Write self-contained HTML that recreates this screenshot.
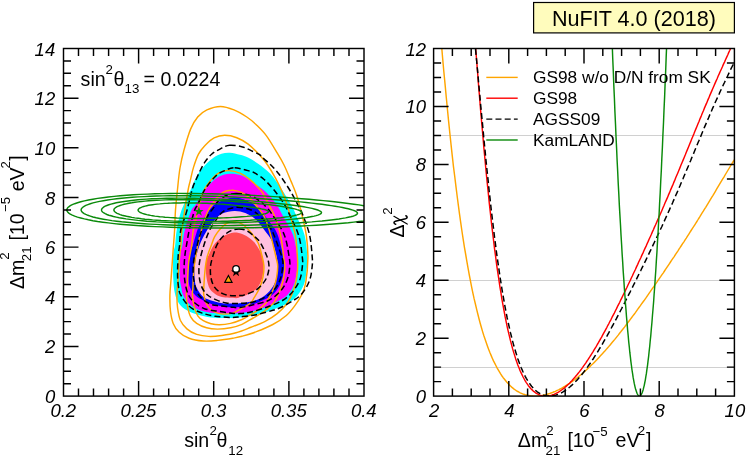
<!DOCTYPE html>
<html><head><meta charset="utf-8"><title>NuFIT 4.0</title>
<style>html,body{margin:0;padding:0;background:#fff}body{width:747px;height:457px;position:relative;overflow:hidden;font-family:"Liberation Sans",sans-serif}</style></head>
<body>
<svg width="747" height="457" viewBox="0 0 747 457" style="position:absolute;left:0;top:0;will-change:transform;font-family:'Liberation Sans',sans-serif">
<defs><clipPath id="cl"><rect x="63.5" y="48.5" width="300.5" height="347.6"/></clipPath><clipPath id="cr"><rect x="433.6" y="48.5" width="300.8" height="347.6"/></clipPath></defs>
<rect width="747" height="457" fill="#fff"/>
<g clip-path="url(#cl)">
<path d="M230.0 152.7C233.1 152.9 236.9 154.0 240.0 154.8C243.1 155.6 245.4 156.1 248.5 157.7C251.6 159.2 254.9 161.4 258.5 164.1C262.1 166.8 266.7 170.0 270.3 173.8C273.9 177.6 277.3 182.7 280.2 186.9C283.1 191.1 285.6 195.2 287.8 198.9C290.0 202.6 291.9 206.1 293.3 208.8C294.7 211.5 294.1 210.6 296.0 215.0C297.9 219.4 302.7 228.0 304.6 235.2C306.5 242.4 307.0 252.4 307.4 258.1C307.8 263.8 307.2 265.1 306.7 269.2C306.2 273.2 305.9 278.4 304.6 282.4C303.3 286.4 301.3 290.2 299.1 293.3C296.9 296.4 295.0 298.5 291.4 301.0C287.8 303.5 282.1 306.0 277.2 308.1C272.3 310.2 266.6 312.2 261.9 313.6C257.2 315.0 252.5 315.7 248.8 316.3C245.2 316.9 243.9 317.1 240.0 317.4C236.1 317.7 230.0 318.0 225.2 318.0C220.4 318.0 215.6 317.9 211.0 317.4C206.4 316.8 201.8 315.9 197.8 314.7C193.8 313.5 190.0 312.1 186.9 310.3C183.8 308.5 181.2 306.7 179.2 303.8C177.2 300.9 175.8 297.5 174.8 293.0C173.8 288.5 173.5 283.2 173.2 276.9C172.9 270.6 172.9 260.3 173.2 255.0C173.5 249.7 174.5 249.4 175.1 245.2C175.7 241.0 175.6 235.7 176.7 229.9C177.8 224.1 178.9 217.6 181.4 210.6C183.9 203.6 189.2 193.2 191.4 188.2C193.6 183.2 193.2 183.2 194.6 180.5C196.0 177.8 197.7 174.5 199.6 171.8C201.5 169.1 203.7 166.5 206.1 164.1C208.5 161.7 211.2 159.2 213.8 157.5C216.4 155.8 218.8 154.5 221.5 153.7C224.2 152.9 226.9 152.5 230.0 152.7Z" fill="#00ffff"/>
<path d="M230.0 173.8C233.8 173.7 237.9 174.1 241.8 175.6C245.7 177.1 249.5 180.3 253.2 182.7C256.9 185.1 260.8 187.7 263.8 190.2C266.8 192.7 268.9 194.9 271.4 197.8C273.8 200.7 276.7 204.8 278.5 207.7C280.3 210.6 280.0 210.4 282.4 215.0C284.8 219.6 290.6 228.0 293.1 235.2C295.6 242.4 296.9 252.1 297.5 258.1C298.1 264.1 297.5 266.8 296.9 271.4C296.2 276.0 295.2 281.6 293.6 285.6C292.0 289.6 289.7 292.8 287.0 295.5C284.3 298.2 280.6 299.7 277.2 301.6C273.8 303.5 270.3 305.4 266.3 307.0C262.3 308.6 257.5 309.9 253.1 310.9C248.7 311.9 243.8 312.7 240.0 313.1C236.2 313.6 234.9 313.6 230.6 313.6C226.3 313.6 219.3 313.7 214.2 313.1C209.1 312.6 204.2 311.9 200.0 310.3C195.8 308.8 191.9 306.4 189.1 303.8C186.3 301.2 184.4 297.7 183.1 295.0C181.8 292.3 181.9 290.8 181.4 287.8C180.9 284.8 180.0 282.4 179.8 276.9C179.6 271.4 179.9 260.3 180.3 255.0C180.7 249.7 181.7 249.4 182.4 245.2C183.2 241.0 183.3 235.7 184.8 229.9C186.3 224.1 189.5 214.8 191.3 210.6C193.1 206.4 193.6 207.8 195.6 204.7C197.6 201.6 200.9 195.4 203.4 191.9C205.9 188.4 207.9 186.1 210.5 183.5C213.1 180.9 215.8 178.1 219.1 176.5C222.3 174.9 226.2 174.0 230.0 173.8Z" fill="#ff00ff"/>
<path d="M234.7 197.6C238.0 197.7 242.1 198.7 245.3 199.9C248.5 201.1 251.2 202.5 254.1 204.8C257.0 207.1 259.9 210.3 262.8 213.6C265.7 216.9 269.1 220.9 271.6 224.5C274.1 228.1 275.8 229.6 277.8 235.2C279.8 240.8 282.7 253.0 283.8 258.1C284.9 263.2 284.5 262.8 284.3 265.9C284.1 269.0 283.7 273.2 282.7 276.9C281.7 280.5 280.1 284.7 278.3 287.8C276.5 290.9 274.4 293.3 271.7 295.5C269.0 297.7 265.4 299.2 261.9 300.8C258.4 302.4 254.6 303.8 250.9 304.8C247.2 305.8 244.1 306.6 240.0 307.0C235.9 307.4 230.6 307.4 226.3 307.0C222.0 306.6 218.0 305.9 214.2 304.8C210.4 303.7 206.4 302.1 203.3 300.5C200.2 298.9 197.7 297.6 195.5 295.5C193.3 293.4 191.4 290.9 190.2 287.8C189.0 284.7 188.6 282.4 188.5 276.9C188.4 271.4 188.9 260.3 189.6 255.0C190.3 249.7 191.6 249.4 192.9 245.2C194.2 241.0 196.0 233.7 197.4 229.9C198.8 226.1 199.8 225.5 201.6 222.4C203.4 219.3 205.7 214.5 208.1 211.4C210.5 208.3 212.9 205.8 215.8 203.8C218.7 201.8 222.4 200.4 225.6 199.4C228.8 198.4 231.4 197.5 234.7 197.6Z" fill="#0000ff"/>
<path d="M234.4 210.9C238.2 210.8 241.8 211.7 245.3 213.1C248.8 214.5 252.0 216.3 255.2 219.1C258.4 221.9 261.5 226.3 264.3 230.0C267.1 233.7 269.9 236.7 271.9 241.0C273.9 245.3 275.6 251.8 276.5 256.0C277.4 260.1 277.5 262.4 277.5 265.9C277.5 269.4 277.5 273.4 276.7 276.9C275.9 280.4 274.7 283.6 272.8 286.7C270.9 289.8 268.3 292.8 265.2 295.2C262.1 297.6 258.4 299.4 254.2 300.8C250.0 302.2 243.0 302.9 240.0 303.3C237.0 303.7 238.8 303.4 236.1 303.4C233.4 303.4 227.8 303.8 224.0 303.4C220.2 303.0 216.4 302.0 213.0 300.9C209.6 299.8 206.0 299.2 203.3 297.0C200.6 294.8 198.2 291.2 196.7 287.8C195.2 284.4 194.7 281.4 194.5 276.9C194.3 272.4 194.6 265.9 195.4 260.6C196.2 255.3 197.8 249.9 199.6 245.2C201.3 240.5 203.6 236.2 205.9 232.2C208.2 228.2 210.8 224.4 213.6 221.3C216.3 218.2 218.9 215.3 222.4 213.6C225.9 211.9 230.6 211.0 234.4 210.9Z" fill="#ffc0e0"/>
<path d="M237.7 232.7C240.6 233.1 243.8 234.6 246.4 236.0C249.0 237.4 251.3 239.5 253.0 241.0C254.7 242.5 254.8 242.7 256.3 245.0C257.8 247.3 260.7 251.5 261.9 255.0C263.1 258.5 263.5 261.9 263.5 265.9C263.5 269.9 263.1 275.3 261.9 279.1C260.7 282.9 258.9 286.3 256.4 288.9C253.8 291.5 249.3 293.5 246.6 294.9C243.9 296.3 241.8 296.6 240.0 297.1C238.2 297.7 239.1 298.2 236.1 298.2C233.1 298.2 225.6 297.9 221.9 297.1C218.2 296.3 216.4 295.0 214.2 293.3C212.0 291.6 210.2 290.0 208.8 286.7C207.4 283.4 206.4 278.0 206.0 273.6C205.6 269.2 205.8 263.7 206.3 260.6C206.8 257.5 207.6 257.6 208.8 255.0C210.0 252.4 211.5 248.1 213.6 245.2C215.7 242.3 218.8 239.6 221.3 237.7C223.9 235.8 226.2 234.6 228.9 233.8C231.6 233.0 234.8 232.3 237.7 232.7Z" fill="#ff5050"/>
<path d="M220.5 106.4C225.0 106.4 229.6 108.1 234.0 109.9C238.4 111.7 243.1 114.6 246.8 117.0C250.5 119.4 252.8 121.4 256.0 124.5C259.2 127.6 262.8 130.9 266.3 135.6C269.8 140.3 274.1 147.8 277.0 152.7C279.9 157.6 281.6 160.2 284.0 165.0C286.4 169.8 288.9 176.1 291.1 181.4C293.3 186.7 295.3 191.1 297.1 196.7C298.9 202.3 300.5 208.6 302.0 215.0C303.5 221.4 305.3 228.0 306.3 235.2C307.3 242.4 308.0 250.1 307.9 258.1C307.8 266.1 306.7 277.2 305.6 283.4C304.5 289.6 303.1 291.8 301.3 295.5C299.5 299.2 297.2 302.5 294.7 305.9C292.1 309.3 289.6 312.7 286.0 315.8C282.4 318.9 277.7 321.9 272.8 324.5C267.9 327.1 261.5 329.7 256.4 331.7C251.3 333.7 245.9 335.2 242.0 336.3C238.1 337.4 236.9 337.5 232.8 338.2C228.7 338.9 222.4 339.9 217.5 340.4C212.6 340.9 208.0 341.4 203.3 341.0C198.6 340.6 193.1 339.7 189.1 338.2C185.1 336.7 181.8 334.7 179.2 332.2C176.5 329.7 174.6 326.9 173.2 323.4C171.8 319.9 171.1 316.1 170.5 311.4C169.9 306.7 169.8 300.2 169.9 295.0C170.0 289.8 170.6 285.7 171.0 280.0C171.4 274.3 172.0 266.4 172.4 260.6C172.8 254.8 173.1 250.3 173.5 245.2C173.9 240.1 174.3 235.8 174.6 229.9C174.9 224.0 175.0 216.9 175.5 210.0C176.0 203.1 176.8 195.5 177.6 188.5C178.3 181.5 178.9 174.4 180.0 168.0C181.1 161.6 182.2 156.5 184.0 150.0C185.8 143.5 188.3 134.6 190.6 129.1C192.9 123.6 195.0 120.2 197.7 117.0C200.4 113.8 203.1 111.7 206.9 109.9C210.7 108.1 216.0 106.4 220.5 106.4Z" fill="none" stroke="#ffa500" stroke-width="1.45"/>
<path d="M224.7 135.3C228.5 135.3 232.9 136.2 236.8 137.7C240.7 139.2 244.2 141.0 248.2 144.1C252.1 147.2 257.3 152.5 260.5 156.0C263.7 159.5 265.1 161.2 267.6 165.0C270.2 168.8 273.3 174.1 275.8 178.7C278.3 183.3 280.5 187.9 282.4 192.4C284.3 196.9 286.0 201.7 287.3 205.5C288.6 209.3 288.7 210.1 290.0 215.0C291.3 219.9 294.1 228.0 295.3 235.2C296.6 242.4 297.1 252.1 297.5 258.1C297.9 264.1 297.8 267.0 297.4 271.4C297.0 275.8 296.3 280.5 295.3 284.5C294.3 288.5 292.9 292.1 291.4 295.5C289.8 298.9 288.4 301.8 286.0 304.8C283.6 307.8 280.7 310.9 277.2 313.6C273.7 316.4 269.6 319.0 265.2 321.3C260.8 323.6 255.8 325.4 250.9 327.3C246.0 329.2 240.8 331.4 236.0 332.8C231.2 334.2 226.4 334.9 221.9 335.5C217.4 336.1 213.0 336.6 208.8 336.4C204.6 336.2 200.3 335.6 196.7 334.4C193.0 333.1 189.6 331.3 186.9 328.9C184.2 326.5 181.9 323.7 180.3 320.2C178.8 316.7 178.2 312.3 177.6 308.1C177.0 303.9 176.9 299.7 177.0 295.0C177.1 290.3 177.6 285.7 178.0 280.0C178.4 274.3 178.7 266.4 179.2 260.6C179.7 254.8 180.3 250.3 180.8 245.2C181.3 240.1 181.3 235.7 182.0 229.9C182.7 224.1 183.7 217.2 184.7 210.6C185.7 203.9 187.2 195.0 188.1 190.0C189.0 185.0 189.4 184.3 190.3 180.5C191.2 176.7 192.1 171.8 193.5 167.4C194.9 163.0 196.6 157.8 198.5 154.2C200.4 150.5 202.4 148.2 205.0 145.5C207.6 142.8 210.8 139.6 214.1 137.9C217.4 136.2 220.9 135.3 224.7 135.3Z" fill="none" stroke="#ffa500" stroke-width="1.45"/>
<path d="M229.0 170.6C232.6 170.7 236.8 171.8 240.4 173.4C244.0 175.0 246.8 176.9 250.3 179.9C253.8 182.9 258.5 187.1 261.6 191.4C264.8 195.7 267.1 201.6 269.2 205.5C271.3 209.4 272.2 210.1 274.1 215.0C276.0 219.9 279.0 228.0 280.6 235.2C282.2 242.4 283.1 253.0 283.8 258.1C284.5 263.2 284.9 262.8 284.9 265.9C284.9 269.0 284.4 273.2 283.8 276.9C283.2 280.5 282.3 284.1 281.0 287.8C279.7 291.5 277.5 296.1 276.1 298.8C274.7 301.5 274.8 301.7 272.8 303.8C270.8 305.9 267.4 309.0 264.1 311.4C260.8 313.8 256.8 315.9 253.1 318.0C249.4 320.1 245.8 322.7 242.0 324.3C238.2 325.9 234.7 327.0 230.6 327.8C226.5 328.6 221.5 329.1 217.5 329.1C213.5 329.1 210.1 328.8 206.6 327.8C203.1 326.9 199.3 325.2 196.7 323.4C194.0 321.6 192.2 319.8 190.7 316.9C189.1 314.0 188.1 309.5 187.4 305.9C186.7 302.2 186.4 298.0 186.3 295.0C186.2 292.0 186.6 291.7 186.9 287.8C187.2 283.9 187.7 275.9 188.0 271.4C188.3 266.9 188.3 265.0 188.9 260.6C189.5 256.2 191.0 250.3 191.7 245.2C192.4 240.1 192.3 235.7 193.3 229.9C194.3 224.1 196.7 215.3 197.8 210.6C198.9 205.9 198.8 205.4 199.9 201.9C201.0 198.4 202.6 193.2 204.4 189.6C206.2 186.0 208.1 183.4 210.5 180.6C212.9 177.8 216.0 174.6 219.1 172.9C222.2 171.2 225.4 170.5 229.0 170.6Z" fill="none" stroke="#ffa500" stroke-width="1.45"/>
<path d="M231.9 190.2C235.2 190.1 238.8 191.3 241.8 192.7C244.8 194.0 247.1 195.9 249.7 198.3C252.3 200.7 254.8 203.7 257.4 207.0C259.9 210.3 262.8 213.3 265.0 218.0C267.2 222.7 268.8 228.5 270.7 235.2C272.6 241.9 275.0 253.0 276.2 258.1C277.4 263.2 277.6 262.8 277.7 265.9C277.8 269.0 277.3 273.2 276.7 276.9C276.1 280.5 275.3 284.1 273.9 287.8C272.5 291.5 269.7 296.3 268.4 298.8C267.1 301.3 268.1 300.8 266.3 302.7C264.5 304.6 260.6 308.0 257.5 310.3C254.4 312.6 250.3 314.8 247.7 316.3C245.1 317.8 244.8 318.3 242.0 319.5C239.2 320.7 234.3 322.5 230.6 323.4C226.9 324.3 223.0 324.8 219.7 324.8C216.4 324.9 213.7 324.4 211.0 323.7C208.3 323.0 205.5 322.0 203.3 320.7C201.1 319.4 199.4 318.3 197.8 315.8C196.2 313.3 194.9 309.4 194.0 305.9C193.1 302.4 192.6 298.0 192.4 295.0C192.2 292.0 192.7 291.7 192.9 287.8C193.1 283.9 193.3 275.9 193.7 271.4C194.0 266.9 194.3 265.0 195.0 260.6C195.7 256.2 196.7 250.5 197.8 245.2C198.9 239.9 200.2 234.3 201.7 229.0C203.2 223.7 205.2 217.4 207.0 213.2C208.8 209.0 210.0 207.4 212.5 204.0C215.0 200.6 218.7 195.3 221.9 193.0C225.1 190.7 228.6 190.2 231.9 190.2Z" fill="none" stroke="#ffa500" stroke-width="1.45"/>
<path d="M234.4 221.8C237.0 221.9 239.4 222.4 242.0 224.0C244.6 225.6 247.3 228.4 249.7 231.1C252.1 233.8 254.8 237.6 256.3 239.9C257.9 242.2 258.1 242.3 259.0 245.0C259.9 247.7 261.2 252.5 262.0 256.0C262.8 259.5 263.7 262.4 263.9 265.9C264.1 269.4 263.7 273.2 263.0 276.9C262.3 280.5 261.2 284.3 259.7 287.8C258.2 291.3 255.7 295.2 254.2 297.7C252.7 300.2 252.5 301.1 250.9 302.7C249.3 304.2 246.2 305.9 244.4 307.0C242.6 308.1 241.9 308.5 240.0 309.5C238.1 310.5 235.5 312.3 232.8 313.1C230.2 313.9 226.7 314.1 224.1 314.1C221.5 314.1 219.7 313.8 217.5 313.1C215.3 312.4 212.9 311.5 211.0 309.8C209.1 308.1 207.2 305.2 206.0 302.7C204.8 300.2 204.2 297.5 203.8 295.0C203.4 292.5 203.6 291.7 203.8 287.8C204.0 283.9 204.4 276.5 204.9 271.4C205.4 266.3 206.0 261.6 207.1 257.2C208.2 252.8 210.1 248.4 211.4 245.0C212.7 241.6 213.2 239.3 214.7 236.6C216.2 233.9 218.2 231.1 220.2 228.9C222.2 226.7 224.3 224.6 226.7 223.4C229.1 222.2 231.8 221.7 234.4 221.8Z" fill="none" stroke="#ffa500" stroke-width="1.45"/>
<path d="M229.7 145.2C233.4 144.9 238.7 145.9 242.5 146.9C246.3 147.9 249.7 149.9 252.5 151.2C255.3 152.5 257.7 153.4 259.6 154.7C261.6 156.0 262.3 157.4 264.2 159.1C266.1 160.8 268.4 162.5 270.9 165.0C273.4 167.5 276.5 170.9 279.1 174.3C281.7 177.7 284.4 181.7 286.7 185.2C289.0 188.7 291.0 192.1 292.7 195.1C294.4 198.1 295.9 201.0 297.1 203.3C298.3 205.6 298.9 206.8 299.9 208.8C300.9 210.8 301.4 211.1 303.0 215.5C304.6 219.9 308.1 228.1 309.6 235.2C311.2 242.3 311.9 253.0 312.3 258.1C312.7 263.2 312.5 262.8 312.2 265.9C311.9 269.0 311.5 273.4 310.6 276.9C309.7 280.4 308.4 283.6 306.7 286.7C305.0 289.8 302.6 293.1 300.2 295.5C297.8 297.9 295.6 299.1 292.5 301.0C289.4 302.9 284.9 305.4 281.6 307.0C278.3 308.6 277.0 309.0 272.8 310.3C268.6 311.6 261.9 313.6 256.4 314.7C250.9 315.8 244.3 316.4 240.0 316.9C235.7 317.3 234.7 317.5 230.6 317.4C226.5 317.3 220.0 317.0 215.3 316.3C210.6 315.6 206.0 314.4 202.2 313.1C198.4 311.8 195.1 310.4 192.4 308.7C189.7 307.0 187.6 304.8 185.8 302.7C184.0 300.6 182.5 297.9 181.4 296.0C180.3 294.1 179.8 294.3 179.2 291.1C178.6 287.9 177.8 282.5 177.6 276.9C177.4 271.2 177.8 262.5 178.1 257.2C178.4 251.9 179.1 249.8 179.6 245.2C180.1 240.6 179.6 235.7 180.8 229.9C182.0 224.1 185.0 217.6 186.9 210.6C188.8 203.6 191.1 193.0 192.5 188.2C193.9 183.4 194.0 184.3 195.2 181.6C196.4 178.9 198.0 175.1 199.6 171.8C201.2 168.5 203.0 164.8 205.0 161.9C207.0 159.0 209.0 156.4 211.6 154.2C214.2 152.0 217.4 150.3 220.4 148.8C223.4 147.3 226.0 145.5 229.7 145.2Z" fill="none" stroke="#000" stroke-width="1.5" stroke-dasharray="6 3.2"/>
<path d="M234.7 167.8C239.0 167.9 246.9 170.4 250.3 171.3C253.7 172.2 252.8 171.9 255.0 173.2C257.2 174.5 261.1 176.9 263.8 179.2C266.5 181.5 269.0 184.2 271.4 186.9C273.8 189.6 275.9 192.3 278.0 195.1C280.1 197.9 282.4 201.2 284.0 203.8C285.6 206.5 285.4 205.8 287.8 211.0C290.2 216.2 296.2 227.3 298.6 235.2C301.0 243.0 301.8 253.0 302.4 258.1C303.0 263.2 302.7 262.8 302.4 265.9C302.1 269.0 301.6 273.6 300.7 276.9C299.8 280.2 298.6 282.7 296.9 285.6C295.2 288.5 292.9 291.8 290.3 294.4C287.8 297.0 285.4 298.9 281.6 301.0C277.8 303.1 272.5 305.2 267.4 307.0C262.3 308.8 255.5 310.9 250.9 312.0C246.3 313.1 243.5 313.4 240.0 313.6C236.5 313.8 233.8 313.4 230.0 313.0C226.2 312.6 221.8 311.9 217.5 311.2C213.2 310.5 208.2 310.1 204.4 308.7C200.6 307.3 197.2 305.0 194.5 302.7C191.8 300.4 190.1 298.2 188.5 295.0C186.9 291.8 185.9 287.3 185.2 283.4C184.5 279.5 184.2 275.8 184.1 271.4C184.0 267.0 184.3 261.6 184.7 257.2C185.1 252.8 185.7 249.8 186.5 245.2C187.3 240.6 188.0 235.7 189.3 229.9C190.6 224.1 193.1 214.8 194.5 210.6C195.9 206.4 196.3 207.6 197.7 204.7C199.1 201.8 201.0 196.6 202.7 193.4C204.4 190.2 205.4 188.5 207.7 185.5C209.9 182.5 213.4 178.1 216.2 175.6C219.0 173.1 221.6 171.9 224.7 170.6C227.8 169.3 230.4 167.7 234.7 167.8Z" fill="none" stroke="#000" stroke-width="1.5" stroke-dasharray="6 3.2"/>
<path d="M236.1 193.4C240.1 193.4 245.9 194.1 250.0 195.5C254.1 196.9 257.9 199.7 260.6 201.6C263.3 203.5 264.3 205.0 266.1 207.0C267.9 209.0 268.6 208.9 271.6 213.6C274.7 218.3 281.4 227.8 284.4 235.2C287.3 242.6 288.4 253.0 289.3 258.1C290.2 263.2 290.0 262.8 289.8 265.9C289.6 269.0 289.1 273.4 288.1 276.9C287.1 280.4 285.6 283.8 283.8 286.7C282.0 289.6 279.9 292.0 277.2 294.4C274.5 296.8 271.4 299.3 267.4 301.0C263.4 302.7 257.7 303.7 253.1 304.8C248.5 305.9 243.8 307.2 240.0 307.6C236.2 308.0 234.0 307.3 230.6 307.0C227.2 306.7 223.0 306.3 219.7 305.9C216.4 305.4 213.8 305.4 211.0 304.3C208.2 303.2 205.4 301.7 203.0 299.5C200.6 297.3 198.1 294.9 196.5 291.0C194.9 287.1 193.8 281.1 193.3 276.0C192.8 270.9 193.3 264.7 193.7 260.6C194.1 256.6 195.0 255.1 195.8 251.7C196.6 248.3 197.3 244.1 198.5 240.0C199.7 235.9 201.3 231.3 203.0 227.0C204.7 222.7 207.1 217.1 208.7 214.1C210.3 211.1 211.2 211.0 212.7 209.0C214.2 207.0 215.3 204.2 217.6 201.9C219.8 199.7 223.1 196.9 226.2 195.5C229.3 194.1 232.1 193.4 236.1 193.4Z" fill="none" stroke="#000" stroke-width="1.5" stroke-dasharray="6 3.2"/>
<path d="M237.0 207.2C241.8 207.0 248.0 208.7 251.9 210.3C255.8 211.9 257.7 214.2 260.6 216.9C263.5 219.6 267.2 223.6 269.4 226.7C271.6 229.8 271.9 230.0 274.0 235.2C276.1 240.4 280.8 253.0 282.2 258.1C283.6 263.2 282.9 262.8 282.7 265.9C282.5 269.0 281.9 273.6 281.0 276.9C280.1 280.2 278.9 282.9 277.2 285.6C275.5 288.3 273.2 291.1 270.6 293.3C268.1 295.5 265.2 297.2 261.9 298.8C258.6 300.4 254.0 301.9 250.9 302.6C247.8 303.3 245.8 303.1 243.3 303.2C240.8 303.3 238.9 303.6 236.1 303.5C233.3 303.4 229.4 303.4 226.3 302.9C223.2 302.4 220.4 301.5 217.5 300.4C214.6 299.2 211.2 297.7 208.8 296.0C206.4 294.3 204.8 292.4 203.3 290.0C201.8 287.6 200.7 284.4 200.0 281.3C199.3 278.2 198.9 274.8 198.9 271.4C198.9 267.9 199.0 265.0 199.8 260.6C200.6 256.2 202.3 250.1 203.9 245.2C205.5 240.3 207.2 235.3 209.2 231.1C211.2 226.9 213.4 223.5 215.8 220.2C218.2 216.9 219.9 213.6 223.4 211.4C226.9 209.2 232.2 207.4 237.0 207.2Z" fill="none" stroke="#000" stroke-width="1.5" stroke-dasharray="6 3.2"/>
<path d="M238.8 228.9C241.4 228.9 243.7 229.2 246.4 230.6C249.1 232.0 252.8 235.0 255.2 237.1C257.6 239.2 258.7 239.9 260.6 243.1C262.5 246.3 265.4 252.3 266.8 256.1C268.2 259.9 268.9 262.6 269.0 265.9C269.1 269.2 268.4 272.9 267.4 275.8C266.4 278.7 265.0 280.9 263.0 283.4C261.0 285.9 258.4 288.7 255.3 290.6C252.2 292.5 246.7 294.1 244.4 294.9C242.1 295.7 244.1 295.4 241.6 295.5C239.1 295.6 233.1 296.0 229.6 295.5C226.1 295.0 223.4 294.2 220.8 292.7C218.2 291.2 215.8 289.1 214.2 286.7C212.6 284.2 211.6 280.9 211.0 278.0C210.4 275.1 210.3 272.1 210.4 269.2C210.5 266.3 210.5 264.6 211.6 260.6C212.7 256.6 214.8 249.3 216.8 245.2C218.8 241.1 221.0 238.4 223.4 236.0C225.8 233.6 228.5 231.8 231.1 230.6C233.7 229.4 236.2 228.9 238.8 228.9Z" fill="none" stroke="#000" stroke-width="1.5" stroke-dasharray="6 3.2"/>
<polygon points="268.5,211.8 268.4,212.1 268.1,212.4 267.7,212.7 267.1,213.0 266.3,213.4 265.3,213.7 264.2,213.9 262.9,214.2 261.4,214.5 259.8,214.8 258.0,215.1 256.0,215.3 254.0,215.6 251.8,215.9 249.4,216.1 246.9,216.4 244.3,216.6 241.6,216.8 238.8,217.0 235.9,217.2 232.9,217.4 229.8,217.6 226.7,217.7 223.4,217.9 220.2,218.0 216.9,218.1 213.5,218.2 210.1,218.3 206.7,218.4 203.3,218.4 199.9,218.4 196.5,218.4 193.1,218.4 189.7,218.4 186.4,218.3 183.2,218.2 179.9,218.1 176.8,218.0 173.7,217.8 170.7,217.6 167.8,217.4 165.0,217.2 162.3,216.9 159.7,216.7 157.2,216.4 154.8,216.1 152.6,215.7 150.6,215.4 148.6,215.0 146.8,214.6 145.2,214.2 143.7,213.8 142.4,213.4 141.3,212.9 140.3,212.5 139.5,212.0 138.9,211.5 138.5,211.0 138.2,210.6 138.1,210.1 138.2,209.6 138.5,209.1 138.9,208.7 139.5,208.2 140.3,207.8 141.3,207.3 142.4,206.9 143.7,206.5 145.2,206.1 146.8,205.7 148.6,205.3 150.6,205.0 152.6,204.7 154.8,204.4 157.2,204.1 159.7,203.9 162.3,203.6 165.0,203.4 167.8,203.3 170.7,203.1 173.7,203.0 176.8,202.9 179.9,202.9 183.2,202.8 186.4,202.8 189.7,202.9 193.1,202.9 196.5,203.0 199.9,203.1 203.3,203.2 206.7,203.3 210.1,203.5 213.5,203.7 216.9,203.9 220.2,204.1 223.4,204.3 226.7,204.6 229.8,204.8 232.9,205.1 235.9,205.4 238.8,205.7 241.6,206.0 244.3,206.3 246.9,206.6 249.4,206.9 251.8,207.2 254.0,207.5 256.0,207.9 258.0,208.2 259.8,208.5 261.4,208.9 262.9,209.2 264.2,209.5 265.3,209.8 266.3,210.2 267.1,210.5 267.7,210.8 268.1,211.2 268.4,211.5" fill="none" stroke="#0a8a0a" stroke-width="1.45"/>
<polygon points="301.7,212.3 301.6,212.8 301.2,213.2 300.5,213.7 299.6,214.1 298.5,214.5 297.1,214.9 295.5,215.3 293.6,215.8 291.5,216.2 289.1,216.6 286.6,216.9 283.8,217.3 280.8,217.7 277.6,218.0 274.2,218.4 270.6,218.7 266.9,219.0 263.0,219.4 258.9,219.6 254.8,219.9 250.4,220.2 246.0,220.4 241.5,220.6 236.8,220.8 232.1,221.0 227.3,221.2 222.5,221.3 217.6,221.4 212.7,221.5 207.8,221.6 202.9,221.6 198.0,221.6 193.1,221.6 188.3,221.5 183.5,221.4 178.8,221.3 174.1,221.1 169.6,220.9 165.2,220.7 160.9,220.5 156.7,220.2 152.6,219.9 148.7,219.5 145.0,219.2 141.4,218.8 138.0,218.3 134.8,217.9 131.8,217.4 129.0,216.8 126.5,216.3 124.1,215.7 122.0,215.2 120.1,214.6 118.5,213.9 117.1,213.3 116.0,212.7 115.1,212.0 114.4,211.3 114.0,210.7 113.9,210.0 114.0,209.3 114.4,208.6 115.1,208.0 116.0,207.3 117.1,206.7 118.5,206.1 120.1,205.5 122.0,204.9 124.1,204.3 126.5,203.8 129.0,203.2 131.8,202.8 134.8,202.3 138.0,201.9 141.4,201.5 145.0,201.1 148.7,200.8 152.6,200.5 156.7,200.3 160.8,200.1 165.2,199.9 169.6,199.8 174.1,199.7 178.8,199.7 183.5,199.7 188.3,199.7 193.1,199.8 198.0,199.9 202.9,200.0 207.8,200.2 212.7,200.4 217.6,200.6 222.5,200.8 227.3,201.1 232.1,201.4 236.8,201.8 241.5,202.1 246.0,202.5 250.4,202.8 254.8,203.2 258.9,203.7 263.0,204.1 266.9,204.5 270.6,204.9 274.2,205.4 277.6,205.8 280.8,206.3 283.8,206.8 286.6,207.2 289.1,207.7 291.5,208.2 293.6,208.6 295.5,209.1 297.1,209.6 298.5,210.0 299.6,210.5 300.5,211.0 301.2,211.4 301.6,211.9" fill="none" stroke="#0a8a0a" stroke-width="1.45"/>
<polygon points="321.5,212.6 321.3,213.2 320.9,213.7 320.1,214.2 319.1,214.6 317.8,215.1 316.1,215.6 314.2,216.1 312.0,216.5 309.5,217.0 306.8,217.5 303.8,217.9 300.5,218.3 297.0,218.7 293.2,219.1 289.3,219.5 285.1,219.9 280.7,220.3 276.2,220.6 271.4,221.0 266.5,221.3 261.4,221.6 256.2,221.8 250.9,222.1 245.5,222.3 240.0,222.5 234.4,222.7 228.7,222.8 223.0,223.0 217.3,223.1 211.5,223.1 205.7,223.1 200.0,223.1 194.3,223.1 188.6,223.0 183.0,222.9 177.5,222.8 172.1,222.6 166.8,222.4 161.6,222.1 156.5,221.9 151.6,221.5 146.8,221.2 142.3,220.8 137.9,220.4 133.7,219.9 129.8,219.4 126.0,218.9 122.5,218.3 119.2,217.8 116.2,217.1 113.5,216.5 111.0,215.8 108.8,215.2 106.9,214.5 105.2,213.7 103.9,213.0 102.9,212.2 102.1,211.5 101.7,210.7 101.5,210.0 101.7,209.2 102.1,208.4 102.9,207.7 103.9,206.9 105.2,206.2 106.9,205.5 108.8,204.8 111.0,204.1 113.5,203.5 116.2,202.8 119.2,202.2 122.5,201.7 126.0,201.2 129.8,200.7 133.7,200.2 137.9,199.8 142.3,199.4 146.8,199.1 151.6,198.8 156.5,198.6 161.6,198.4 166.8,198.3 172.1,198.2 177.5,198.1 183.0,198.1 188.6,198.2 194.3,198.2 200.0,198.4 205.7,198.5 211.5,198.7 217.3,198.9 223.0,199.2 228.7,199.5 234.4,199.8 240.0,200.2 245.5,200.6 250.9,200.9 256.2,201.4 261.4,201.8 266.5,202.3 271.4,202.7 276.2,203.2 280.7,203.7 285.1,204.2 289.3,204.7 293.2,205.2 297.0,205.8 300.5,206.3 303.8,206.8 306.8,207.4 309.5,207.9 312.0,208.4 314.2,209.0 316.1,209.5 317.8,210.0 319.1,210.6 320.1,211.1 320.9,211.6 321.3,212.1" fill="none" stroke="#0a8a0a" stroke-width="1.45"/>
<polygon points="357.5,213.2 357.3,213.8 356.7,214.4 355.8,215.0 354.5,215.6 352.8,216.2 350.7,216.8 348.3,217.3 345.6,217.9 342.4,218.4 339.0,219.0 335.2,219.5 331.1,220.0 326.7,220.5 322.0,221.0 317.0,221.4 311.8,221.9 306.3,222.3 300.5,222.7 294.6,223.1 288.4,223.5 282.0,223.8 275.5,224.2 268.8,224.5 262.0,224.7 255.1,225.0 248.0,225.2 240.9,225.3 233.7,225.5 226.5,225.6 219.3,225.6 212.1,225.7 204.9,225.6 197.7,225.6 190.6,225.5 183.5,225.4 176.6,225.2 169.8,225.0 163.1,224.7 156.6,224.4 150.2,224.1 144.0,223.7 138.1,223.3 132.3,222.8 126.8,222.3 121.6,221.8 116.6,221.2 111.9,220.6 107.5,219.9 103.4,219.2 99.6,218.5 96.2,217.8 93.0,217.0 90.3,216.1 87.9,215.3 85.8,214.4 84.1,213.6 82.8,212.7 81.9,211.8 81.3,210.8 81.1,209.9 81.3,209.0 81.9,208.1 82.8,207.2 84.1,206.3 85.8,205.4 87.9,204.6 90.3,203.7 93.0,202.9 96.2,202.1 99.6,201.4 103.4,200.7 107.5,200.0 111.9,199.4 116.6,198.8 121.6,198.2 126.8,197.7 132.3,197.3 138.1,196.9 144.0,196.6 150.2,196.3 156.6,196.0 163.1,195.9 169.8,195.8 176.6,195.7 183.5,195.7 190.6,195.7 197.7,195.8 204.9,196.0 212.1,196.2 219.3,196.4 226.5,196.7 233.7,197.0 240.9,197.4 248.0,197.8 255.1,198.2 262.0,198.7 268.8,199.2 275.5,199.7 282.0,200.2 288.4,200.7 294.6,201.3 300.5,201.9 306.3,202.5 311.8,203.1 317.0,203.7 322.0,204.3 326.7,205.0 331.1,205.6 335.2,206.2 339.0,206.9 342.4,207.5 345.6,208.2 348.3,208.8 350.7,209.5 352.8,210.1 354.5,210.7 355.8,211.4 356.7,212.0 357.3,212.6" fill="none" stroke="#0a8a0a" stroke-width="1.45"/>
<polygon points="389.8,213.7 389.6,214.4 388.9,215.1 387.8,215.8 386.3,216.5 384.3,217.2 381.9,217.8 379.1,218.5 375.8,219.1 372.2,219.7 368.2,220.4 363.7,221.0 359.0,221.5 353.8,222.1 348.3,222.7 342.5,223.2 336.4,223.7 329.9,224.2 323.2,224.7 316.3,225.2 309.1,225.6 301.6,226.0 294.0,226.3 286.2,226.7 278.2,227.0 270.1,227.3 261.9,227.5 253.6,227.7 245.2,227.8 236.8,228.0 228.3,228.0 219.8,228.0 211.4,228.0 203.0,228.0 194.7,227.8 186.5,227.7 178.4,227.5 170.4,227.2 162.6,226.9 155.0,226.6 147.6,226.2 140.3,225.8 133.4,225.3 126.7,224.8 120.2,224.2 114.1,223.6 108.3,222.9 102.8,222.2 97.6,221.5 92.9,220.7 88.4,219.8 84.4,218.9 80.8,218.0 77.5,217.1 74.7,216.1 72.3,215.1 70.3,214.1 68.8,213.1 67.7,212.0 67.0,211.0 66.8,209.9 67.0,208.9 67.7,207.8 68.8,206.8 70.3,205.7 72.3,204.7 74.7,203.7 77.5,202.8 80.8,201.8 84.4,200.9 88.4,200.0 92.9,199.2 97.6,198.4 102.8,197.7 108.3,197.0 114.1,196.4 120.2,195.8 126.7,195.3 133.4,194.8 140.3,194.4 147.5,194.1 155.0,193.8 162.6,193.6 170.4,193.5 178.4,193.4 186.5,193.4 194.7,193.5 203.0,193.6 211.4,193.8 219.8,194.0 228.3,194.3 236.8,194.6 245.2,195.0 253.6,195.4 261.9,195.9 270.1,196.4 278.2,196.9 286.2,197.5 294.0,198.1 301.6,198.7 309.1,199.3 316.3,200.0 323.2,200.6 329.9,201.3 336.4,202.0 342.5,202.8 348.3,203.5 353.8,204.2 359.0,204.9 363.7,205.7 368.2,206.4 372.2,207.2 375.8,207.9 379.1,208.7 381.9,209.4 384.3,210.1 386.3,210.9 387.8,211.6 388.9,212.3 389.6,213.0" fill="none" stroke="#0a8a0a" stroke-width="1.45"/>
</g>
<polygon points="198.90,206.60 200.08,209.98 203.66,210.05 200.80,212.22 201.84,215.65 198.90,213.60 195.96,215.65 197.00,212.22 194.14,210.05 197.72,209.98" fill="#0a8a0a"/>
<polygon points="228.4,275.5 224.7,282.4 232.1,282.4" fill="#ffa500" stroke="#000" stroke-width="1.1"/>
<polygon points="236.05,266.80 237.28,270.30 241.00,270.39 238.05,272.65 239.11,276.21 236.05,274.10 232.99,276.21 234.05,272.65 231.10,270.39 234.82,270.30" fill="#000"/>
<circle cx="236.05" cy="268.9" r="3.3" fill="#fff" stroke="#000" stroke-width="1.3"/>
<g clip-path="url(#cr)">
<line x1="433.6" x2="734.4" y1="367.5" y2="367.5" stroke="#d0d0d0" stroke-width="1"/>
<line x1="433.6" x2="734.4" y1="280.5" y2="280.5" stroke="#d0d0d0" stroke-width="1"/>
<line x1="433.6" x2="734.4" y1="135.5" y2="135.5" stroke="#d0d0d0" stroke-width="1"/>
<path d="M434.1 -49.8 L435.4 -33.2 L436.6 -17.0 L437.8 -1.2 L439.0 14.1 L440.2 29.0 L441.4 43.6 L442.6 57.7 L443.8 71.3 L445.1 84.6 L446.3 97.5 L447.5 110.0 L448.7 122.1 L449.9 133.8 L451.1 145.2 L452.3 156.2 L453.5 166.8 L454.8 177.0 L456.0 186.9 L457.2 196.5 L458.4 205.7 L459.6 214.6 L460.8 223.2 L462.0 231.5 L463.2 239.4 L464.4 247.1 L465.7 254.5 L466.9 261.6 L468.1 268.4 L469.3 275.0 L470.5 281.2 L471.7 287.3 L472.9 293.1 L474.1 298.7 L475.4 304.0 L476.6 309.1 L477.8 314.0 L479.0 318.7 L480.2 323.2 L481.4 327.5 L482.6 331.6 L483.8 335.5 L485.1 339.2 L486.3 342.8 L487.5 346.2 L488.7 349.4 L489.9 352.5 L491.1 355.4 L492.3 358.2 L493.5 360.9 L494.8 363.4 L496.0 365.8 L497.2 368.1 L498.4 370.2 L499.6 372.2 L500.8 374.2 L502.0 376.0 L503.2 377.7 L504.5 379.3 L505.7 380.8 L506.9 382.3 L508.1 383.6 L509.3 384.9 L510.5 386.0 L511.7 387.1 L512.9 388.1 L514.1 389.1 L515.4 390.0 L516.6 390.8 L517.8 391.5 L519.0 392.2 L520.2 392.8 L521.4 393.3 L522.6 393.8 L523.8 394.3 L525.1 394.7 L526.3 395.0 L527.5 395.3 L528.7 395.5 L529.9 395.7 L531.1 395.9 L532.3 396.0 L533.5 396.1 L534.8 396.1 L536.0 396.1 L537.2 396.0 L538.4 395.9 L539.6 395.8 L540.8 395.7 L542.0 395.5 L543.2 395.2 L544.5 395.0 L545.7 394.7 L546.9 394.4 L548.1 394.0 L549.3 393.6 L550.5 393.2 L551.7 392.8 L552.9 392.3 L554.2 391.8 L555.4 391.3 L556.6 390.7 L557.8 390.2 L559.0 389.6 L560.2 388.9 L561.4 388.3 L562.6 387.6 L563.8 386.9 L565.1 386.2 L566.3 385.4 L567.5 384.7 L568.7 383.9 L569.9 383.1 L571.1 382.2 L572.3 381.4 L573.5 380.5 L574.8 379.6 L576.0 378.7 L577.2 377.7 L578.4 376.8 L579.6 375.8 L580.8 374.8 L582.0 373.7 L583.2 372.7 L584.5 371.6 L585.7 370.5 L586.9 369.4 L588.1 368.3 L589.3 367.2 L590.5 366.0 L591.7 364.8 L592.9 363.7 L594.2 362.4 L595.4 361.2 L596.6 360.0 L597.8 358.7 L599.0 357.4 L600.2 356.1 L601.4 354.8 L602.6 353.5 L603.9 352.1 L605.1 350.8 L606.3 349.4 L607.5 348.0 L608.7 346.6 L609.9 345.2 L611.1 343.7 L612.3 342.3 L613.6 340.8 L614.8 339.4 L616.0 337.9 L617.2 336.4 L618.4 334.9 L619.6 333.3 L620.8 331.8 L622.0 330.2 L623.2 328.7 L624.5 327.1 L625.7 325.5 L626.9 323.9 L628.1 322.3 L629.3 320.7 L630.5 319.1 L631.7 317.5 L632.9 315.9 L634.2 314.2 L635.4 312.6 L636.6 310.9 L637.8 309.2 L639.0 307.5 L640.2 305.9 L641.4 304.2 L642.6 302.5 L643.9 300.8 L645.1 299.1 L646.3 297.4 L647.5 295.6 L648.7 293.9 L649.9 292.2 L651.1 290.4 L652.3 288.7 L653.6 286.9 L654.8 285.2 L656.0 283.4 L657.2 281.7 L658.4 279.9 L659.6 278.1 L660.8 276.4 L662.0 274.6 L663.3 272.8 L664.5 271.0 L665.7 269.2 L666.9 267.4 L668.1 265.6 L669.3 263.8 L670.5 262.0 L671.7 260.2 L672.9 258.4 L674.2 256.6 L675.4 254.7 L676.6 252.9 L677.8 251.1 L679.0 249.2 L680.2 247.4 L681.4 245.5 L682.6 243.7 L683.9 241.8 L685.1 239.9 L686.3 238.1 L687.5 236.2 L688.7 234.3 L689.9 232.4 L691.1 230.5 L692.3 228.6 L693.6 226.7 L694.8 224.8 L696.0 222.9 L697.2 221.0 L698.4 219.0 L699.6 217.1 L700.8 215.1 L702.0 213.2 L703.3 211.2 L704.5 209.2 L705.7 207.3 L706.9 205.3 L708.1 203.3 L709.3 201.3 L710.5 199.3 L711.7 197.3 L713.0 195.3 L714.2 193.3 L715.4 191.3 L716.6 189.2 L717.8 187.2 L719.0 185.2 L720.2 183.1 L721.4 181.1 L722.6 179.1 L723.9 177.1 L725.1 175.0 L726.3 173.0 L727.5 171.0 L728.7 169.0 L729.9 167.0 L731.1 165.0 L732.3 163.0 L733.6 161.0 L734.8 159.0 L736.0 157.1 L737.2 155.2 L738.4 153.3 L739.6 151.4 L740.8 149.6 L742.0 147.8 L743.3 146.0 L744.5 144.2 L745.7 142.5" fill="none" stroke="#ffa500" stroke-width="1.45" stroke-linejoin="round"/>
<path d="M471.2 -12.2 L472.3 2.3 L473.3 16.7 L474.4 30.9 L475.4 44.9 L476.5 58.8 L477.6 72.4 L478.6 85.7 L479.7 98.8 L480.7 111.5 L481.8 124.0 L482.9 136.2 L483.9 148.1 L485.0 159.6 L486.0 170.8 L487.1 181.7 L488.2 192.2 L489.2 202.4 L490.3 212.2 L491.3 221.7 L492.4 230.9 L493.5 239.8 L494.5 248.3 L495.6 256.5 L496.6 264.3 L497.7 271.9 L498.8 279.1 L499.8 286.1 L500.9 292.7 L501.9 299.1 L503.0 305.2 L504.1 311.0 L505.1 316.5 L506.2 321.8 L507.2 326.8 L508.3 331.6 L509.4 336.1 L510.4 340.4 L511.5 344.5 L512.5 348.4 L513.6 352.1 L514.7 355.6 L515.7 358.9 L516.8 362.0 L517.8 364.9 L518.9 367.6 L519.9 370.2 L521.0 372.6 L522.1 374.9 L523.1 377.0 L524.2 379.0 L525.2 380.9 L526.3 382.6 L527.4 384.2 L528.4 385.7 L529.5 387.0 L530.5 388.3 L531.6 389.4 L532.7 390.4 L533.7 391.4 L534.8 392.2 L535.8 393.0 L536.9 393.6 L538.0 394.2 L539.0 394.7 L540.1 395.1 L541.1 395.4 L542.2 395.7 L543.3 395.9 L544.3 396.0 L545.4 396.1 L546.4 396.1 L547.5 396.0 L548.6 395.9 L549.6 395.7 L550.7 395.5 L551.7 395.2 L552.8 394.8 L553.9 394.4 L554.9 394.0 L556.0 393.5 L557.0 392.9 L558.1 392.3 L559.2 391.7 L560.2 391.0 L561.3 390.2 L562.3 389.5 L563.4 388.6 L564.5 387.8 L565.5 386.9 L566.6 385.9 L567.6 385.0 L568.7 384.0 L569.8 382.9 L570.8 381.8 L571.9 380.7 L572.9 379.5 L574.0 378.3 L575.1 377.1 L576.1 375.8 L577.2 374.5 L578.2 373.2 L579.3 371.9 L580.4 370.5 L581.4 369.1 L582.5 367.6 L583.5 366.1 L584.6 364.6 L585.7 363.1 L586.7 361.5 L587.8 359.9 L588.8 358.3 L589.9 356.7 L591.0 355.0 L592.0 353.3 L593.1 351.6 L594.1 349.9 L595.2 348.1 L596.3 346.3 L597.3 344.5 L598.4 342.7 L599.4 340.8 L600.5 339.0 L601.6 337.1 L602.6 335.2 L603.7 333.2 L604.7 331.3 L605.8 329.3 L606.9 327.3 L607.9 325.3 L609.0 323.3 L610.0 321.3 L611.1 319.3 L612.1 317.2 L613.2 315.1 L614.3 313.1 L615.3 311.0 L616.4 308.9 L617.4 306.7 L618.5 304.6 L619.6 302.5 L620.6 300.3 L621.7 298.1 L622.7 296.0 L623.8 293.8 L624.9 291.6 L625.9 289.4 L627.0 287.2 L628.0 285.0 L629.1 282.7 L630.2 280.5 L631.2 278.2 L632.3 276.0 L633.3 273.7 L634.4 271.5 L635.5 269.2 L636.5 266.9 L637.6 264.6 L638.6 262.3 L639.7 260.0 L640.8 257.7 L641.8 255.4 L642.9 253.1 L643.9 250.8 L645.0 248.4 L646.1 246.1 L647.1 243.8 L648.2 241.4 L649.2 239.0 L650.3 236.7 L651.4 234.3 L652.4 231.9 L653.5 229.5 L654.5 227.1 L655.6 224.8 L656.7 222.3 L657.7 219.9 L658.8 217.5 L659.8 215.1 L660.9 212.7 L662.0 210.2 L663.0 207.8 L664.1 205.3 L665.1 202.8 L666.2 200.4 L667.3 197.9 L668.3 195.4 L669.4 192.9 L670.4 190.4 L671.5 187.9 L672.6 185.4 L673.6 182.9 L674.7 180.4 L675.7 177.8 L676.8 175.3 L677.9 172.7 L678.9 170.2 L680.0 167.6 L681.0 165.1 L682.1 162.5 L683.2 159.9 L684.2 157.4 L685.3 154.8 L686.3 152.2 L687.4 149.6 L688.5 147.0 L689.5 144.5 L690.6 141.9 L691.6 139.3 L692.7 136.7 L693.8 134.1 L694.8 131.5 L695.9 128.9 L696.9 126.4 L698.0 123.8 L699.1 121.2 L700.1 118.6 L701.2 116.1 L702.2 113.5 L703.3 111.0 L704.3 108.4 L705.4 105.9 L706.5 103.4 L707.5 100.9 L708.6 98.4 L709.6 95.9 L710.7 93.4 L711.8 90.9 L712.8 88.5 L713.9 86.0 L714.9 83.6 L716.0 81.1 L717.1 78.7 L718.1 76.3 L719.2 73.9 L720.2 71.5 L721.3 69.2 L722.4 66.8 L723.4 64.4 L724.5 62.1 L725.5 59.7 L726.6 57.4 L727.7 55.0 L728.7 52.6 L729.8 50.3 L730.8 47.9 L731.9 45.5 L733.0 43.1 L734.0 40.6 L735.1 38.1 L736.1 35.6 L737.2 33.1 L738.3 30.5 L739.3 27.8 L740.4 25.1 L741.4 22.3 L742.5 19.4 L743.6 16.4 L744.6 13.3 L745.7 10.1" fill="none" stroke="#ff0000" stroke-width="1.45" stroke-linejoin="round"/>
<path d="M471.2 3.1 L472.3 13.9 L473.3 25.1 L474.4 36.4 L475.4 47.8 L476.5 59.3 L477.6 70.9 L478.6 82.5 L479.7 94.0 L480.7 105.4 L481.8 116.8 L482.9 128.0 L483.9 139.1 L485.0 149.9 L486.0 160.6 L487.1 171.0 L488.2 181.2 L489.2 191.2 L490.3 200.8 L491.3 210.3 L492.4 219.4 L493.5 228.3 L494.5 236.9 L495.6 245.1 L496.6 253.2 L497.7 260.9 L498.8 268.3 L499.8 275.5 L500.9 282.3 L501.9 288.9 L503.0 295.3 L504.1 301.3 L505.1 307.1 L506.2 312.7 L507.2 318.0 L508.3 323.0 L509.4 327.8 L510.4 332.4 L511.5 336.8 L512.5 340.9 L513.6 344.9 L514.7 348.6 L515.7 352.1 L516.8 355.5 L517.8 358.7 L518.9 361.7 L519.9 364.5 L521.0 367.2 L522.1 369.7 L523.1 372.0 L524.2 374.3 L525.2 376.3 L526.3 378.3 L527.4 380.1 L528.4 381.8 L529.5 383.4 L530.5 384.8 L531.6 386.2 L532.7 387.4 L533.7 388.6 L534.8 389.7 L535.8 390.6 L536.9 391.5 L538.0 392.3 L539.0 393.0 L540.1 393.6 L541.1 394.2 L542.2 394.6 L543.3 395.0 L544.3 395.4 L545.4 395.6 L546.4 395.9 L547.5 396.0 L548.6 396.1 L549.6 396.1 L550.7 396.1 L551.7 396.0 L552.8 395.8 L553.9 395.6 L554.9 395.4 L556.0 395.1 L557.0 394.7 L558.1 394.3 L559.2 393.9 L560.2 393.4 L561.3 392.9 L562.3 392.3 L563.4 391.7 L564.5 391.0 L565.5 390.3 L566.6 389.5 L567.6 388.7 L568.7 387.9 L569.8 387.0 L570.8 386.1 L571.9 385.2 L572.9 384.2 L574.0 383.2 L575.1 382.1 L576.1 381.0 L577.2 379.9 L578.2 378.7 L579.3 377.5 L580.4 376.3 L581.4 375.0 L582.5 373.7 L583.5 372.4 L584.6 371.0 L585.7 369.6 L586.7 368.2 L587.8 366.7 L588.8 365.2 L589.9 363.7 L591.0 362.2 L592.0 360.6 L593.1 359.0 L594.1 357.4 L595.2 355.7 L596.3 354.1 L597.3 352.4 L598.4 350.6 L599.4 348.9 L600.5 347.1 L601.6 345.4 L602.6 343.6 L603.7 341.7 L604.7 339.9 L605.8 338.0 L606.9 336.2 L607.9 334.3 L609.0 332.4 L610.0 330.4 L611.1 328.5 L612.1 326.5 L613.2 324.6 L614.3 322.6 L615.3 320.6 L616.4 318.6 L617.4 316.6 L618.5 314.6 L619.6 312.5 L620.6 310.5 L621.7 308.5 L622.7 306.4 L623.8 304.3 L624.9 302.3 L625.9 300.2 L627.0 298.1 L628.0 296.0 L629.1 293.9 L630.2 291.8 L631.2 289.7 L632.3 287.6 L633.3 285.5 L634.4 283.3 L635.5 281.2 L636.5 279.1 L637.6 276.9 L638.6 274.8 L639.7 272.6 L640.8 270.5 L641.8 268.3 L642.9 266.2 L643.9 264.0 L645.0 261.8 L646.1 259.6 L647.1 257.5 L648.2 255.3 L649.2 253.1 L650.3 250.9 L651.4 248.7 L652.4 246.4 L653.5 244.2 L654.5 242.0 L655.6 239.8 L656.7 237.5 L657.7 235.3 L658.8 233.0 L659.8 230.7 L660.9 228.5 L662.0 226.2 L663.0 223.9 L664.1 221.6 L665.1 219.3 L666.2 216.9 L667.3 214.6 L668.3 212.3 L669.4 209.9 L670.4 207.5 L671.5 205.2 L672.6 202.8 L673.6 200.4 L674.7 198.0 L675.7 195.5 L676.8 193.1 L677.9 190.7 L678.9 188.2 L680.0 185.8 L681.0 183.3 L682.1 180.8 L683.2 178.3 L684.2 175.8 L685.3 173.3 L686.3 170.8 L687.4 168.3 L688.5 165.8 L689.5 163.2 L690.6 160.7 L691.6 158.1 L692.7 155.6 L693.8 153.0 L694.8 150.5 L695.9 147.9 L696.9 145.4 L698.0 142.8 L699.1 140.3 L700.1 137.8 L701.2 135.2 L702.2 132.7 L703.3 130.2 L704.3 127.6 L705.4 125.1 L706.5 122.6 L707.5 120.2 L708.6 117.7 L709.6 115.2 L710.7 112.8 L711.8 110.3 L712.8 107.9 L713.9 105.5 L714.9 103.1 L716.0 100.8 L717.1 98.4 L718.1 96.1 L719.2 93.8 L720.2 91.5 L721.3 89.2 L722.4 87.0 L723.4 84.7 L724.5 82.5 L725.5 80.3 L726.6 78.1 L727.7 75.8 L728.7 73.6 L729.8 71.4 L730.8 69.2 L731.9 67.0 L733.0 64.8 L734.0 62.6 L735.1 60.3 L736.1 58.0 L737.2 55.7 L738.3 53.3 L739.3 50.9 L740.4 48.3 L741.4 45.8 L742.5 43.1 L743.6 40.3 L744.6 37.4 L745.7 34.4" fill="none" stroke="#000" stroke-width="1.5" stroke-linejoin="round" stroke-dasharray="6 3.2"/>
<path d="M608.9 -47.1 L609.4 -31.3 L610.0 -15.7 L610.5 -0.4 L611.1 14.5 L611.6 29.2 L612.2 43.6 L612.7 57.7 L613.3 71.5 L613.8 85.1 L614.4 98.3 L614.9 111.3 L615.5 124.0 L616.0 136.3 L616.6 148.4 L617.1 160.2 L617.7 171.8 L618.2 183.0 L618.8 193.9 L619.3 204.6 L619.9 214.9 L620.5 225.0 L621.0 234.8 L621.6 244.3 L622.1 253.5 L622.7 262.4 L623.2 271.1 L623.8 279.4 L624.3 287.5 L624.9 295.2 L625.4 302.7 L626.0 309.9 L626.5 316.8 L627.1 323.4 L627.6 329.8 L628.2 335.8 L628.7 341.6 L629.3 347.0 L629.8 352.2 L630.4 357.1 L630.9 361.7 L631.5 366.0 L632.0 370.0 L632.6 373.7 L633.1 377.2 L633.7 380.3 L634.2 383.2 L634.8 385.8 L635.3 388.1 L635.9 390.1 L636.5 391.8 L637.0 393.2 L637.6 394.4 L638.1 395.2 L638.7 395.8 L639.2 396.1 L639.8 396.1 L640.3 395.8 L640.9 395.2 L641.4 394.3 L642.0 393.1 L642.5 391.7 L643.1 389.9 L643.6 387.9 L644.2 385.6 L644.7 383.0 L645.3 380.1 L645.8 376.9 L646.4 373.4 L646.9 369.7 L647.5 365.6 L648.0 361.3 L648.6 356.6 L649.1 351.7 L649.7 346.5 L650.2 341.0 L650.8 335.3 L651.3 329.2 L651.9 322.8 L652.4 316.2 L653.0 309.3 L653.6 302.0 L654.1 294.5 L654.7 286.7 L655.2 278.7 L655.8 270.3 L656.3 261.6 L656.9 252.7 L657.4 243.4 L658.0 233.9 L658.5 224.1 L659.1 214.0 L659.6 203.6 L660.2 192.9 L660.7 182.0 L661.3 170.7 L661.8 159.2 L662.4 147.3 L662.9 135.2 L663.5 122.8 L664.0 110.1 L664.6 97.1 L665.1 83.8 L665.7 70.3 L666.2 56.4 L666.8 42.3 L667.3 27.9 L667.9 13.2 L668.4 -1.8 L669.0 -17.1 L669.6 -32.7 L670.1 -48.6" fill="none" stroke="#0a8a0a" stroke-width="1.45" stroke-linejoin="round"/>
</g>
<line x1="486.3" x2="517.7" y1="77.4" y2="77.4" stroke="#ffa500" stroke-width="1.4"/>
<line x1="486.3" x2="517.7" y1="98.2" y2="98.2" stroke="#ff0000" stroke-width="1.4"/>
<line x1="486.3" x2="517.7" y1="119.1" y2="119.1" stroke="#000" stroke-width="1.4" stroke-dasharray="6 3.2"/>
<line x1="486.3" x2="517.7" y1="140.0" y2="140.0" stroke="#0a8a0a" stroke-width="1.4"/>
<text x="533" y="83.1" font-size="17.3">GS98 w/o D/N from SK</text>
<text x="533" y="104.0" font-size="17.3">GS98</text>
<text x="533" y="124.8" font-size="17.3">AGSS09</text>
<text x="533" y="145.7" font-size="17.3">KamLAND</text>
<g stroke="#000" stroke-width="1.45" fill="none">
<rect x="63.5" y="48.5" width="300.5" height="347.6"/>
<path d="M138.6 396.1v-15M138.6 48.5v15M213.7 396.1v-15M213.7 48.5v15M288.9 396.1v-15M288.9 48.5v15M78.5 396.1v-7.5M78.5 48.5v7.5M93.5 396.1v-7.5M93.5 48.5v7.5M108.6 396.1v-7.5M108.6 48.5v7.5M123.6 396.1v-7.5M123.6 48.5v7.5M153.6 396.1v-7.5M153.6 48.5v7.5M168.7 396.1v-7.5M168.7 48.5v7.5M183.7 396.1v-7.5M183.7 48.5v7.5M198.7 396.1v-7.5M198.7 48.5v7.5M228.8 396.1v-7.5M228.8 48.5v7.5M243.8 396.1v-7.5M243.8 48.5v7.5M258.8 396.1v-7.5M258.8 48.5v7.5M273.9 396.1v-7.5M273.9 48.5v7.5M303.9 396.1v-7.5M303.9 48.5v7.5M318.9 396.1v-7.5M318.9 48.5v7.5M333.9 396.1v-7.5M333.9 48.5v7.5M349.0 396.1v-7.5M349.0 48.5v7.5M63.5 346.4h15M364.0 346.4h-15M63.5 296.8h15M364.0 296.8h-15M63.5 247.1h15M364.0 247.1h-15M63.5 197.5h15M364.0 197.5h-15M63.5 147.8h15M364.0 147.8h-15M63.5 98.2h15M364.0 98.2h-15M63.5 383.7h7.5M364.0 383.7h-7.5M63.5 371.3h7.5M364.0 371.3h-7.5M63.5 358.9h7.5M364.0 358.9h-7.5M63.5 334.0h7.5M364.0 334.0h-7.5M63.5 321.6h7.5M364.0 321.6h-7.5M63.5 309.2h7.5M364.0 309.2h-7.5M63.5 284.4h7.5M364.0 284.4h-7.5M63.5 272.0h7.5M364.0 272.0h-7.5M63.5 259.5h7.5M364.0 259.5h-7.5M63.5 234.7h7.5M364.0 234.7h-7.5M63.5 222.3h7.5M364.0 222.3h-7.5M63.5 209.9h7.5M364.0 209.9h-7.5M63.5 185.1h7.5M364.0 185.1h-7.5M63.5 172.6h7.5M364.0 172.6h-7.5M63.5 160.2h7.5M364.0 160.2h-7.5M63.5 135.4h7.5M364.0 135.4h-7.5M63.5 123.0h7.5M364.0 123.0h-7.5M63.5 110.6h7.5M364.0 110.6h-7.5M63.5 85.7h7.5M364.0 85.7h-7.5M63.5 73.3h7.5M364.0 73.3h-7.5M63.5 60.9h7.5M364.0 60.9h-7.5"/>
</g>
<g stroke="#000" stroke-width="1.45" fill="none">
<rect x="433.6" y="48.5" width="300.8" height="347.6"/>
<path d="M508.8 396.1v-15M508.8 48.5v15M584.0 396.1v-15M584.0 48.5v15M659.2 396.1v-15M659.2 48.5v15M452.4 396.1v-7.5M452.4 48.5v7.5M471.2 396.1v-7.5M471.2 48.5v7.5M490.0 396.1v-7.5M490.0 48.5v7.5M527.6 396.1v-7.5M527.6 48.5v7.5M546.4 396.1v-7.5M546.4 48.5v7.5M565.2 396.1v-7.5M565.2 48.5v7.5M602.8 396.1v-7.5M602.8 48.5v7.5M621.6 396.1v-7.5M621.6 48.5v7.5M640.4 396.1v-7.5M640.4 48.5v7.5M678.0 396.1v-7.5M678.0 48.5v7.5M696.8 396.1v-7.5M696.8 48.5v7.5M715.6 396.1v-7.5M715.6 48.5v7.5M433.6 338.2h15M734.4 338.2h-15M433.6 280.2h15M734.4 280.2h-15M433.6 222.3h15M734.4 222.3h-15M433.6 164.4h15M734.4 164.4h-15M433.6 106.4h15M734.4 106.4h-15M433.6 381.6h7.5M734.4 381.6h-7.5M433.6 367.1h7.5M734.4 367.1h-7.5M433.6 352.7h7.5M734.4 352.7h-7.5M433.6 323.7h7.5M734.4 323.7h-7.5M433.6 309.2h7.5M734.4 309.2h-7.5M433.6 294.7h7.5M734.4 294.7h-7.5M433.6 265.8h7.5M734.4 265.8h-7.5M433.6 251.3h7.5M734.4 251.3h-7.5M433.6 236.8h7.5M734.4 236.8h-7.5M433.6 207.8h7.5M734.4 207.8h-7.5M433.6 193.3h7.5M734.4 193.3h-7.5M433.6 178.9h7.5M734.4 178.9h-7.5M433.6 149.9h7.5M734.4 149.9h-7.5M433.6 135.4h7.5M734.4 135.4h-7.5M433.6 120.9h7.5M734.4 120.9h-7.5M433.6 91.9h7.5M734.4 91.9h-7.5M433.6 77.5h7.5M734.4 77.5h-7.5M433.6 63.0h7.5M734.4 63.0h-7.5"/>
</g>
<g font-size="18.5" font-style="italic">
<text x="55.2" y="403.1" text-anchor="end">0</text>
<text x="55.2" y="353.4" text-anchor="end">2</text>
<text x="55.2" y="303.8" text-anchor="end">4</text>
<text x="55.2" y="254.1" text-anchor="end">6</text>
<text x="55.2" y="204.5" text-anchor="end">8</text>
<text x="55.2" y="154.8" text-anchor="end">10</text>
<text x="55.2" y="105.2" text-anchor="end">12</text>
<text x="55.2" y="55.5" text-anchor="end">14</text>
<text x="63.3" y="417.3" text-anchor="middle">0.2</text>
<text x="138.4" y="417.3" text-anchor="middle">0.25</text>
<text x="213.5" y="417.3" text-anchor="middle">0.3</text>
<text x="288.7" y="417.3" text-anchor="middle">0.35</text>
<text x="363.8" y="417.3" text-anchor="middle">0.4</text>
<text x="426" y="403.1" text-anchor="end">0</text>
<text x="426" y="345.2" text-anchor="end">2</text>
<text x="426" y="287.2" text-anchor="end">4</text>
<text x="426" y="229.3" text-anchor="end">6</text>
<text x="426" y="171.4" text-anchor="end">8</text>
<text x="426" y="113.4" text-anchor="end">10</text>
<text x="426" y="55.5" text-anchor="end">12</text>
<text x="434.1" y="417.3" text-anchor="middle">2</text>
<text x="509.3" y="417.3" text-anchor="middle">4</text>
<text x="584.5" y="417.3" text-anchor="middle">6</text>
<text x="659.7" y="417.3" text-anchor="middle">8</text>
<text x="734.9" y="417.3" text-anchor="middle">10</text>
</g>
<g font-size="19.6">
<text x="80.6" y="86.1">sin</text><text x="105.5" y="73.8" font-size="13.3">2</text><text x="113.6" y="86.1">θ</text><text x="124.6" y="93.2" font-size="13.3">13</text><text x="143.6" y="86.1">= 0.0224</text>
<text x="184.2" y="446.8">sin</text><text x="209.6" y="434.9" font-size="13.3">2</text><text x="216.6" y="446.8">θ</text><text x="228.3" y="454.6" font-size="13.3">12</text>
<text x="517.8" y="446.7">Δm</text><text x="546.2" y="435.3" font-size="13.3">2</text><text x="545.6" y="454.6" font-size="13.3">21</text><text x="567.4" y="446.7">[10</text><text x="592.6" y="436" font-size="13.3">−5</text><text x="615.6" y="446.7">eV</text><text x="637.8" y="435.3" font-size="13.3">2</text><text x="645.9" y="446.7">]</text>
<text transform="translate(24.0 289.0) rotate(-90)">Δm</text>
<text transform="translate(9.2 259.8) rotate(-90)" font-size="13.3">2</text>
<text transform="translate(31.0 261.2) rotate(-90)" font-size="13.3">21</text>
<text transform="translate(24.0 240.6) rotate(-90)">[10</text>
<text transform="translate(9.6 212.0) rotate(-90)" font-size="13.3">−5</text>
<text transform="translate(24.0 191.3) rotate(-90)">eV</text>
<text transform="translate(10.0 168.4) rotate(-90)" font-size="13.3">2</text>
<text transform="translate(24.0 160.8) rotate(-90)">]</text>
<text transform="translate(404.0 237.6) rotate(-90)">Δ</text>
<text transform="translate(392.2 214.8) rotate(-90)" font-size="13.3">2</text>
<g transform="translate(404 224.6) rotate(-90)" fill="none" stroke="#000" stroke-linecap="round"><path d="M8.3 -10.1L0.5 3.2" stroke-width="1.2"/><path d="M0.3 -8.4C0.9 -10.4 2.7 -10.6 3.4 -8.6L5.9 1.5C6.5 3.5 8.1 3.6 8.8 1.9" stroke-width="1.6"/></g>
</g>
<rect x="533.6" y="2.5" width="200.8" height="30.4" fill="#fffcbd" stroke="#000" stroke-width="1.2"/>
<text x="634" y="25.5" font-size="21.6" text-anchor="middle">NuFIT 4.0 (2018)</text>
</svg>
</body></html>
